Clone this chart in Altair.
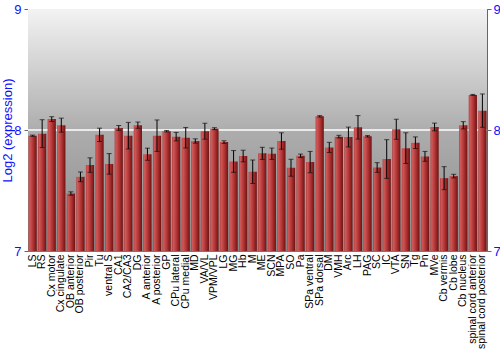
import altair as alt
import pandas as pd

regions = ["LS", "RS", "Cx motor", "Cx cingulate", "OB anterior", "OB posterior", "Pir", "Tu",
           "ventral S", "CA1", "CA2/CA3", "DG", "A anterior", "A posterior", "GP", "CPu lateral",
           "CPu medial", "MD", "VA/VL", "VPM/VPL", "LG", "MG", "Hb", "M", "ME", "SCN", "MPA", "SO",
           "Pa", "SPa ventral", "SPa dorsal", "DM", "VMH", "Arc", "LH", "PAG", "SC", "IC", "VTA",
           "SN", "Tg", "Pn", "MVe", "Cb vermis", "Cb lobe", "Cb nucleus", "spinal cord anterior",
           "spinal cord posterior"]
values = [7.953, 7.97, 8.09, 8.04, 7.475, 7.613, 7.71, 7.96,
          7.72, 8.017, 7.953, 8.04, 7.80, 7.953, 7.99, 7.945,
          7.936, 7.909, 7.99, 8.011, 7.90, 7.74, 7.785, 7.655, 7.807, 7.804, 7.909, 7.688,
          7.787, 7.735, 8.113, 7.856, 7.945, 7.942, 8.022, 7.948, 7.69, 7.76, 8.006,
          7.85, 7.895, 7.782, 8.025, 7.602, 7.619, 8.039, 8.29,
          8.16]
errors = [0.005, 0.115, 0.02, 0.058, 0.014, 0.04, 0.06, 0.055,
          0.085, 0.02, 0.11, 0.026, 0.05, 0.13, 0.006, 0.035,
          0.085, 0.018, 0.066, 0.008, 0.011, 0.09, 0.048, 0.097, 0.05, 0.047, 0.068, 0.07,
          0.014, 0.088, 0.006, 0.042, 0.011, 0.082, 0.097, 0.006, 0.04, 0.16, 0.083,
          0.127, 0.048, 0.041, 0.032, 0.095, 0.015, 0.03, 0.004,
          0.138]
y_min, y_max = 7, 9
y_title = "Log2 (expression)"

df = pd.DataFrame({"region": regions, "value": values, "err": errors})
df["lo"] = df["value"] - df["err"]
df["hi"] = df["value"] + df["err"]

W, H = 459, 242
blue = "#0f0fff"

yscale = alt.Scale(domain=[y_min, y_max], zero=False, nice=False)
xenc = alt.X("region:N", sort=regions, title=None,
             scale=alt.Scale(paddingInner=0.14, paddingOuter=0.05),
             axis=alt.Axis(labelAngle=-90, labelFontSize=10.5, labelColor="#000000",
                           labelFont="Liberation Sans", ticks=False, domain=False,
                           labelPadding=3, labelOverlap=False))

bg = alt.Chart(pd.DataFrame({"a": [0]})).mark_rect(
    color=alt.LinearGradient(gradient="linear", x1=0, x2=0, y1=0, y2=1,
                             stops=[alt.GradientStop(color="#f3f3f3", offset=0),
                                    alt.GradientStop(color="#adadad", offset=0.5),
                                    alt.GradientStop(color="#8a8a8a", offset=1)])
).encode(x=alt.value(0), x2=alt.value(W), y=alt.value(0), y2=alt.value(H))

line8 = alt.Chart(pd.DataFrame({"v": [8]})).mark_rule(color="#ffffff", strokeWidth=1.5).encode(
    y=alt.Y("v:Q", scale=yscale, title=y_title,
            axis=alt.Axis(tickCount=2, orient="left", grid=False, labelColor=blue,
                          titleColor=blue, labelFontSize=13, titleFontSize=13,
                          titleFontWeight="normal", labelFont="Liberation Sans",
                          titleFont="Liberation Sans", domainColor="#666666",
                          tickColor="#666666", tickSize=4, labelPadding=3, titlePadding=-1,
                          labelOverlap=False, labelFlush=False))
)

bars = alt.Chart(df).mark_bar(
    color=alt.LinearGradient(gradient="linear", x1=0, x2=1, y1=0, y2=0,
                             stops=[alt.GradientStop(color="#b53a3a", offset=0),
                                    alt.GradientStop(color="#cf5a5a", offset=0.15),
                                    alt.GradientStop(color="#b23434", offset=0.55),
                                    alt.GradientStop(color="#6e1212", offset=1)])
).encode(
    x=xenc,
    y=alt.Y("value:Q", scale=yscale,
            axis=alt.Axis(tickCount=2, orient="right", grid=False, labelColor=blue,
                          title=None, labelFontSize=13, labelFont="Liberation Sans",
                          domainColor="#666666", tickColor="#666666", tickSize=4,
                          labelPadding=2, labelOverlap=False, labelFlush=False)),
    y2=alt.datum(y_min),
)

rules = alt.Chart(df).mark_rule(color="#000000", strokeWidth=1).encode(
    x=alt.X("region:N", sort=regions), y=alt.Y("lo:Q", scale=yscale, axis=None), y2="hi:Q")
cap_lo = alt.Chart(df).mark_tick(color="#111111", size=5, thickness=1).encode(
    x=alt.X("region:N", sort=regions), y=alt.Y("lo:Q", scale=yscale, axis=None))
cap_hi = alt.Chart(df).mark_tick(color="#111111", size=5, thickness=1).encode(
    x=alt.X("region:N", sort=regions), y=alt.Y("hi:Q", scale=yscale, axis=None))

chart = alt.layer(bg, line8, bars, rules, cap_lo, cap_hi).resolve_axis(y="independent").properties(
    width=W, height=H,
    autosize=alt.AutoSizeParams(type="none"),
    padding={"left": 28, "top": 9, "right": 13, "bottom": 99},
    background="#ffffff",
).configure_view(stroke="#777777", strokeWidth=1)

chart.save("out.html", embed_options={"renderer": "svg", "actions": False})
